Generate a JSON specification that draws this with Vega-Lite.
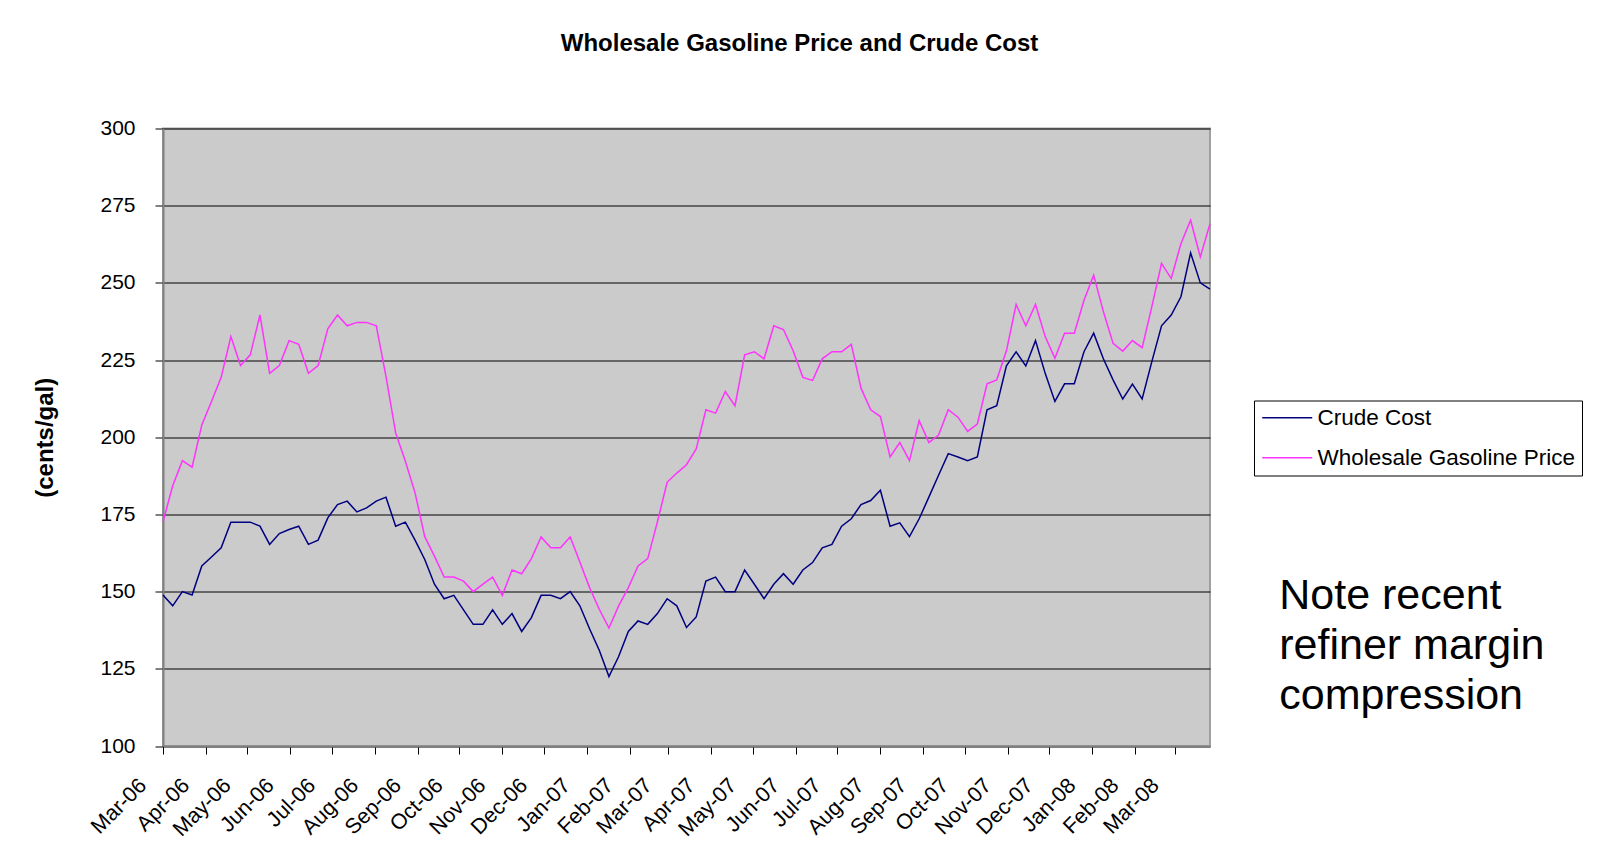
{
  "$schema": "https://vega.github.io/schema/vega-lite/v6.json",
  "width": 1047,
  "height": 617.5,
  "autosize": {"type": "none"},
  "padding": {"left": 163, "top": 128.5, "right": 404, "bottom": 114.5},
  "background": "white",
  "config": {
    "font": "Liberation Sans",
    "view": {"fill": "#cbcbcb", "stroke": "#a0a0a0", "strokeWidth": 2}
  },
  "title": {
    "text": "Wholesale Gasoline Price and Crude Cost",
    "font": "Liberation Sans",
    "fontSize": 24,
    "fontWeight": "bold",
    "color": "black",
    "anchor": "middle",
    "baseline": "alphabetic",
    "dx": 113,
    "offset": 43
  },
  "layer": [
    {
      "data": {
        "values": [
          {"date": "2006-03-06", "Crude Cost": 148.9, "Wholesale Gasoline Price": 172.6},
          {"date": "2006-03-13", "Crude Cost": 145.4, "Wholesale Gasoline Price": 184.3},
          {"date": "2006-03-20", "Crude Cost": 150.0, "Wholesale Gasoline Price": 192.4},
          {"date": "2006-03-27", "Crude Cost": 148.9, "Wholesale Gasoline Price": 190.3},
          {"date": "2006-04-03", "Crude Cost": 158.3, "Wholesale Gasoline Price": 204.0},
          {"date": "2006-04-10", "Crude Cost": 161.2, "Wholesale Gasoline Price": 211.6},
          {"date": "2006-04-17", "Crude Cost": 164.2, "Wholesale Gasoline Price": 219.4},
          {"date": "2006-04-24", "Crude Cost": 172.5, "Wholesale Gasoline Price": 232.6},
          {"date": "2006-05-01", "Crude Cost": 172.5, "Wholesale Gasoline Price": 223.2},
          {"date": "2006-05-08", "Crude Cost": 172.5, "Wholesale Gasoline Price": 226.7},
          {"date": "2006-05-15", "Crude Cost": 171.2, "Wholesale Gasoline Price": 239.6},
          {"date": "2006-05-22", "Crude Cost": 165.3, "Wholesale Gasoline Price": 220.7},
          {"date": "2006-05-29", "Crude Cost": 168.8, "Wholesale Gasoline Price": 223.2},
          {"date": "2006-06-05", "Crude Cost": 170.1, "Wholesale Gasoline Price": 231.3},
          {"date": "2006-06-12", "Crude Cost": 171.2, "Wholesale Gasoline Price": 230.1},
          {"date": "2006-06-19", "Crude Cost": 165.3, "Wholesale Gasoline Price": 220.7},
          {"date": "2006-06-26", "Crude Cost": 166.7, "Wholesale Gasoline Price": 223.2},
          {"date": "2006-07-03", "Crude Cost": 173.9, "Wholesale Gasoline Price": 235.1},
          {"date": "2006-07-10", "Crude Cost": 178.2, "Wholesale Gasoline Price": 239.6},
          {"date": "2006-07-17", "Crude Cost": 179.3, "Wholesale Gasoline Price": 236.1},
          {"date": "2006-07-24", "Crude Cost": 175.8, "Wholesale Gasoline Price": 237.2},
          {"date": "2006-07-31", "Crude Cost": 177.1, "Wholesale Gasoline Price": 237.2},
          {"date": "2006-08-07", "Crude Cost": 179.3, "Wholesale Gasoline Price": 236.1},
          {"date": "2006-08-14", "Crude Cost": 180.6, "Wholesale Gasoline Price": 219.7},
          {"date": "2006-08-21", "Crude Cost": 171.2, "Wholesale Gasoline Price": 201.4},
          {"date": "2006-08-28", "Crude Cost": 172.5, "Wholesale Gasoline Price": 192.2},
          {"date": "2006-09-04", "Crude Cost": 166.7, "Wholesale Gasoline Price": 182.0},
          {"date": "2006-09-11", "Crude Cost": 160.4, "Wholesale Gasoline Price": 167.8},
          {"date": "2006-09-18", "Crude Cost": 152.4, "Wholesale Gasoline Price": 161.5},
          {"date": "2006-09-25", "Crude Cost": 147.7, "Wholesale Gasoline Price": 154.7},
          {"date": "2006-10-02", "Crude Cost": 148.8, "Wholesale Gasoline Price": 154.7},
          {"date": "2006-10-09", "Crude Cost": 144.1, "Wholesale Gasoline Price": 153.4},
          {"date": "2006-10-16", "Crude Cost": 139.4, "Wholesale Gasoline Price": 150.0},
          {"date": "2006-10-23", "Crude Cost": 139.4, "Wholesale Gasoline Price": 152.4},
          {"date": "2006-10-30", "Crude Cost": 144.1, "Wholesale Gasoline Price": 154.7},
          {"date": "2006-11-06", "Crude Cost": 139.4, "Wholesale Gasoline Price": 148.8},
          {"date": "2006-11-13", "Crude Cost": 142.9, "Wholesale Gasoline Price": 157.0},
          {"date": "2006-11-20", "Crude Cost": 137.1, "Wholesale Gasoline Price": 155.8},
          {"date": "2006-11-27", "Crude Cost": 141.6, "Wholesale Gasoline Price": 160.7},
          {"date": "2006-12-04", "Crude Cost": 148.8, "Wholesale Gasoline Price": 167.7},
          {"date": "2006-12-11", "Crude Cost": 148.8, "Wholesale Gasoline Price": 164.2},
          {"date": "2006-12-18", "Crude Cost": 147.7, "Wholesale Gasoline Price": 164.2},
          {"date": "2006-12-25", "Crude Cost": 150.0, "Wholesale Gasoline Price": 167.7},
          {"date": "2007-01-01", "Crude Cost": 145.4, "Wholesale Gasoline Price": 159.6},
          {"date": "2007-01-08", "Crude Cost": 138.0, "Wholesale Gasoline Price": 151.3},
          {"date": "2007-01-15", "Crude Cost": 131.0, "Wholesale Gasoline Price": 144.3},
          {"date": "2007-01-22", "Crude Cost": 122.5, "Wholesale Gasoline Price": 138.2},
          {"date": "2007-01-29", "Crude Cost": 129.0, "Wholesale Gasoline Price": 145.4},
          {"date": "2007-02-05", "Crude Cost": 137.1, "Wholesale Gasoline Price": 151.3},
          {"date": "2007-02-12", "Crude Cost": 140.5, "Wholesale Gasoline Price": 158.3},
          {"date": "2007-02-19", "Crude Cost": 139.4, "Wholesale Gasoline Price": 160.7},
          {"date": "2007-02-26", "Crude Cost": 142.9, "Wholesale Gasoline Price": 172.6},
          {"date": "2007-03-05", "Crude Cost": 147.7, "Wholesale Gasoline Price": 185.4},
          {"date": "2007-03-12", "Crude Cost": 145.4, "Wholesale Gasoline Price": 188.4},
          {"date": "2007-03-19", "Crude Cost": 138.4, "Wholesale Gasoline Price": 191.1},
          {"date": "2007-03-26", "Crude Cost": 141.8, "Wholesale Gasoline Price": 196.2},
          {"date": "2007-04-02", "Crude Cost": 153.4, "Wholesale Gasoline Price": 208.9},
          {"date": "2007-04-09", "Crude Cost": 154.7, "Wholesale Gasoline Price": 207.8},
          {"date": "2007-04-16", "Crude Cost": 150.0, "Wholesale Gasoline Price": 214.8},
          {"date": "2007-04-23", "Crude Cost": 150.0, "Wholesale Gasoline Price": 210.2},
          {"date": "2007-04-30", "Crude Cost": 157.0, "Wholesale Gasoline Price": 226.7},
          {"date": "2007-05-07", "Crude Cost": 152.4, "Wholesale Gasoline Price": 227.7},
          {"date": "2007-05-14", "Crude Cost": 147.7, "Wholesale Gasoline Price": 225.4},
          {"date": "2007-05-21", "Crude Cost": 152.4, "Wholesale Gasoline Price": 236.1},
          {"date": "2007-05-28", "Crude Cost": 155.8, "Wholesale Gasoline Price": 234.9},
          {"date": "2007-06-04", "Crude Cost": 152.4, "Wholesale Gasoline Price": 228.0},
          {"date": "2007-06-11", "Crude Cost": 157.0, "Wholesale Gasoline Price": 219.4},
          {"date": "2007-06-18", "Crude Cost": 159.4, "Wholesale Gasoline Price": 218.4},
          {"date": "2007-06-25", "Crude Cost": 164.2, "Wholesale Gasoline Price": 225.4},
          {"date": "2007-07-02", "Crude Cost": 165.3, "Wholesale Gasoline Price": 227.7},
          {"date": "2007-07-09", "Crude Cost": 171.2, "Wholesale Gasoline Price": 227.7},
          {"date": "2007-07-16", "Crude Cost": 173.6, "Wholesale Gasoline Price": 230.1},
          {"date": "2007-07-23", "Crude Cost": 178.2, "Wholesale Gasoline Price": 215.9},
          {"date": "2007-07-30", "Crude Cost": 179.5, "Wholesale Gasoline Price": 208.9},
          {"date": "2007-08-06", "Crude Cost": 182.8, "Wholesale Gasoline Price": 206.7},
          {"date": "2007-08-13", "Crude Cost": 171.2, "Wholesale Gasoline Price": 193.6},
          {"date": "2007-08-20", "Crude Cost": 172.3, "Wholesale Gasoline Price": 198.3},
          {"date": "2007-08-27", "Crude Cost": 167.8, "Wholesale Gasoline Price": 192.4},
          {"date": "2007-09-03", "Crude Cost": 173.6, "Wholesale Gasoline Price": 205.4},
          {"date": "2007-09-10", "Crude Cost": 180.6, "Wholesale Gasoline Price": 198.3},
          {"date": "2007-09-17", "Crude Cost": 187.7, "Wholesale Gasoline Price": 200.7},
          {"date": "2007-09-24", "Crude Cost": 194.7, "Wholesale Gasoline Price": 208.9},
          {"date": "2007-10-01", "Crude Cost": 193.6, "Wholesale Gasoline Price": 206.5},
          {"date": "2007-10-08", "Crude Cost": 192.4, "Wholesale Gasoline Price": 201.9},
          {"date": "2007-10-15", "Crude Cost": 193.6, "Wholesale Gasoline Price": 204.3},
          {"date": "2007-10-22", "Crude Cost": 208.9, "Wholesale Gasoline Price": 217.3},
          {"date": "2007-10-29", "Crude Cost": 210.2, "Wholesale Gasoline Price": 218.6},
          {"date": "2007-11-05", "Crude Cost": 223.1, "Wholesale Gasoline Price": 228.0},
          {"date": "2007-11-12", "Crude Cost": 227.7, "Wholesale Gasoline Price": 243.0},
          {"date": "2007-11-19", "Crude Cost": 223.1, "Wholesale Gasoline Price": 236.1},
          {"date": "2007-11-26", "Crude Cost": 231.3, "Wholesale Gasoline Price": 243.0},
          {"date": "2007-12-03", "Crude Cost": 220.7, "Wholesale Gasoline Price": 232.6},
          {"date": "2007-12-10", "Crude Cost": 211.6, "Wholesale Gasoline Price": 225.6},
          {"date": "2007-12-17", "Crude Cost": 217.3, "Wholesale Gasoline Price": 233.7},
          {"date": "2007-12-24", "Crude Cost": 217.3, "Wholesale Gasoline Price": 233.7},
          {"date": "2007-12-31", "Crude Cost": 227.7, "Wholesale Gasoline Price": 244.4},
          {"date": "2008-01-07", "Crude Cost": 233.7, "Wholesale Gasoline Price": 252.5},
          {"date": "2008-01-14", "Crude Cost": 225.4, "Wholesale Gasoline Price": 240.7},
          {"date": "2008-01-21", "Crude Cost": 218.6, "Wholesale Gasoline Price": 230.4},
          {"date": "2008-01-28", "Crude Cost": 212.4, "Wholesale Gasoline Price": 227.9},
          {"date": "2008-02-04", "Crude Cost": 217.2, "Wholesale Gasoline Price": 231.3},
          {"date": "2008-02-11", "Crude Cost": 212.4, "Wholesale Gasoline Price": 229.0},
          {"date": "2008-02-18", "Crude Cost": 224.5, "Wholesale Gasoline Price": 242.3},
          {"date": "2008-02-25", "Crude Cost": 236.1, "Wholesale Gasoline Price": 256.3},
          {"date": "2008-03-03", "Crude Cost": 239.6, "Wholesale Gasoline Price": 251.4},
          {"date": "2008-03-10", "Crude Cost": 245.5, "Wholesale Gasoline Price": 262.7},
          {"date": "2008-03-17", "Crude Cost": 259.7, "Wholesale Gasoline Price": 270.3},
          {"date": "2008-03-24", "Crude Cost": 250.0, "Wholesale Gasoline Price": 258.4},
          {"date": "2008-03-31", "Crude Cost": 248.0, "Wholesale Gasoline Price": 269.2}
        ]
      },
      "transform": [{"fold": ["Crude Cost", "Wholesale Gasoline Price"], "as": ["series", "value"]}],
      "mark": {"type": "line", "strokeWidth": 1.5},
      "encoding": {
        "x": {
          "field": "date",
          "type": "temporal",
          "scale": {
            "type": "utc",
            "domain": [
              {"year": 2006, "month": 3, "date": 6, "utc": true},
              {"year": 2008, "month": 3, "date": 31, "utc": true}
            ]
          },
          "axis": {
            "title": null,
            "grid": false,
            "values": [
              {"year": 2006, "month": 3, "date": 6, "utc": true},
              {"year": 2006, "month": 4, "date": 6, "utc": true},
              {"year": 2006, "month": 5, "date": 6, "utc": true},
              {"year": 2006, "month": 6, "date": 6, "utc": true},
              {"year": 2006, "month": 7, "date": 6, "utc": true},
              {"year": 2006, "month": 8, "date": 6, "utc": true},
              {"year": 2006, "month": 9, "date": 6, "utc": true},
              {"year": 2006, "month": 10, "date": 6, "utc": true},
              {"year": 2006, "month": 11, "date": 6, "utc": true},
              {"year": 2006, "month": 12, "date": 6, "utc": true},
              {"year": 2007, "month": 1, "date": 6, "utc": true},
              {"year": 2007, "month": 2, "date": 6, "utc": true},
              {"year": 2007, "month": 3, "date": 6, "utc": true},
              {"year": 2007, "month": 4, "date": 6, "utc": true},
              {"year": 2007, "month": 5, "date": 6, "utc": true},
              {"year": 2007, "month": 6, "date": 6, "utc": true},
              {"year": 2007, "month": 7, "date": 6, "utc": true},
              {"year": 2007, "month": 8, "date": 6, "utc": true},
              {"year": 2007, "month": 9, "date": 6, "utc": true},
              {"year": 2007, "month": 10, "date": 6, "utc": true},
              {"year": 2007, "month": 11, "date": 6, "utc": true},
              {"year": 2007, "month": 12, "date": 6, "utc": true},
              {"year": 2008, "month": 1, "date": 6, "utc": true},
              {"year": 2008, "month": 2, "date": 6, "utc": true},
              {"year": 2008, "month": 3, "date": 6, "utc": true}
            ],
            "labelExpr": "utcFormat(datum.value, '%b-%y')",
            "labelAngle": -45,
            "labelAlign": "right",
            "labelBaseline": "middle",
            "labelFontSize": 21.5,
            "labelColor": "black",
            "labelOffset": -20,
            "labelPadding": 28,
            "labelOverlap": false,
            "tickSize": 8,
            "tickColor": "black",
            "domainColor": "#808080",
            "domainWidth": 2
          }
        },
        "y": {
          "field": "value",
          "type": "quantitative",
          "scale": {"domain": [100, 300], "nice": false, "zero": false},
          "axis": {
            "title": "(cents/gal)",
            "titleFontSize": 24,
            "titleFontWeight": "bold",
            "titleColor": "black",
            "titlePadding": 42,
            "values": [100, 125, 150, 175, 200, 225, 250, 275, 300],
            "grid": true,
            "gridColor": "black",
            "gridWidth": 1,
            "gridOpacity": 1,
            "labelFontSize": 21,
            "labelColor": "black",
            "labelPadding": 20,
            "tickSize": 8,
            "tickColor": "black",
            "domainColor": "#808080",
            "domainWidth": 2
          }
        },
        "color": {
          "field": "series",
          "type": "nominal",
          "scale": {"domain": ["Crude Cost", "Wholesale Gasoline Price"], "range": ["#000080", "#ff33ff"]},
          "legend": {
            "title": null,
            "orient": "none",
            "legendX": 1091,
            "legendY": 272,
            "symbolType": "M-2.5,0H2.5",
            "symbolSize": 400,
            "symbolOffset": 16,
            "symbolStrokeWidth": 1.5,
            "labelFontSize": 22.5,
            "labelColor": "black",
            "labelOffset": 19,
            "labelLimit": 800,
            "labelExpr": "datum.label + '\u00a0\u00a0\u00a0\u00a0\u00a0\u00a0\u00a0\u00a0\u00a0\u00a0\u00a0\u00a0\u00a0\u00a0'",
            "strokeColor": "black",
            "fillColor": "white",
            "padding": 6,
            "rowPadding": 17
          }
        }
      }
    },
    {
      "data": {"values": [{"note": "Note recent\nrefiner margin\ncompression"}]},
      "mark": {
        "type": "text",
        "align": "left",
        "baseline": "alphabetic",
        "font": "Liberation Sans",
        "fontSize": 43,
        "lineHeight": 50,
        "lineBreak": "\n",
        "color": "black"
      },
      "encoding": {
        "text": {"field": "note"},
        "x": {
          "datum": {"year": 2008, "month": 5, "date": 20, "utc": true},
          "type": "temporal",
          "scale": {
            "type": "utc",
            "domain": [
              {"year": 2006, "month": 3, "date": 6, "utc": true},
              {"year": 2008, "month": 3, "date": 31, "utc": true}
            ]
          }
        },
        "y": {"datum": 144.4, "type": "quantitative", "scale": {"domain": [100, 300], "nice": false, "zero": false}}
      }
    }
  ]
}
